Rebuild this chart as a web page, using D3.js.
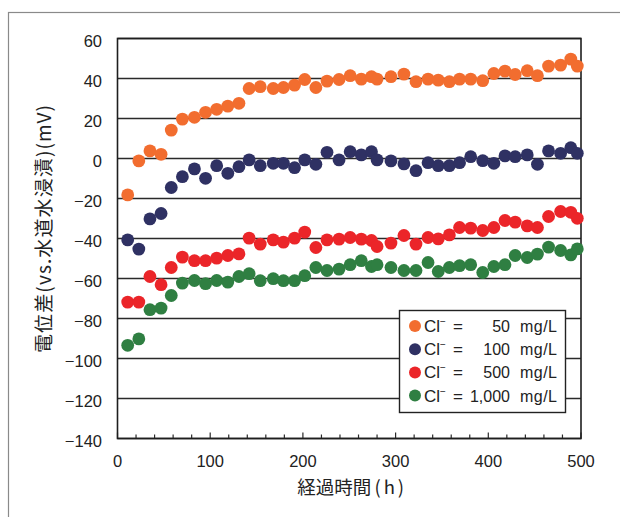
<!DOCTYPE html>
<html><head><meta charset="utf-8">
<script src="https://cdn.jsdelivr.net/npm/d3@7"></script>
<style>body{margin:0;background:#fff}svg{display:block}</style>
</head><body><svg id="c" width="620" height="517"></svg>
<script>
const hours = [11,23,35,47,58,70,83,95,107,119,131,142,154,168,179,191,202,214,226,239,251,263,274,280,295,309,322,335,346,358,369,381,394,406,418,429,442,453,465,478,489,496];
const cl50 = [-18.2,-1.2,3.8,2.1,14.2,19.7,20.6,23.1,24.6,26.2,27.6,35.0,35.9,35.0,35.5,36.7,39.5,35.5,38.7,39.5,41.4,39.7,40.9,39.7,40.9,42.2,38.4,39.7,39.2,38.4,39.7,39.7,38.9,42.5,43.7,42.0,43.9,41.4,46.2,46.7,49.7,46.2];
const cl100 = [-40.7,-45.3,-30.2,-27.5,-14.5,-9.1,-5.2,-9.9,-3.6,-7.4,-4.1,-0.7,-3.6,-2.4,-2.4,-4.6,-0.7,-2.9,3.1,-0.7,3.4,1.8,3.4,-0.7,-1.2,-2.7,-6.1,-2.1,-3.6,-3.6,-2.1,0.9,-1.1,-2.4,1.3,0.9,1.8,-2.9,3.8,2.6,5.4,2.6];
const cl500 = [-71.8,-71.8,-59,-63.1,-54.5,-49.3,-51.1,-51.1,-49.8,-48.5,-47.7,-39.8,-42.8,-40.7,-41.8,-39.8,-36.8,-44.5,-40.7,-40.3,-39.5,-40.3,-41.0,-44.0,-42.3,-38.5,-42.8,-39.5,-40.2,-38.2,-34.5,-34.8,-36.0,-34.5,-31.0,-31.8,-33.7,-34.5,-29.0,-26.5,-26.9,-29.9];
const cl1000 = [-93.4,-90.2,-75.6,-74.8,-68.5,-62.3,-61.0,-62.6,-61.0,-61.8,-59.0,-57.6,-61.1,-60.1,-61.1,-61.1,-58.6,-54.5,-56.0,-55.3,-53.1,-51.1,-54.0,-53.1,-54.5,-56.0,-56.0,-52.0,-56.5,-54.5,-53.6,-53.1,-57.0,-54.0,-53.1,-48.5,-49.5,-47.8,-44.3,-46.0,-48.2,-45.2];
const seriesNames = ["50","100","500","1,000"];
const seriesColors = ["#f26d2f","#2f3163","#eb2529","#2f7f42"];
const yTicks = [60,40,20,0,-20,-40,-60,-80,-100,-120,-140];
const xTicks = [0,100,200,300,400,500];
const xTitleMain = "経過時間";
const xTitleUnit = "(h)";
const yTitle = "電位差(vs.水道水浸漬)(mV)";

const svg = d3.select("#c");
const L = 117.5, R = 581, T = 38.5, B = 438.5;
const x = d3.scaleLinear().domain([0,500]).range([L,R]);
const y = d3.scaleLinear().domain([-140,60]).range([B,T]);
const font = "'Liberation Sans', Arial, sans-serif";
const cjk = "'Noto Sans CJK JP', 'Noto Sans', sans-serif";

svg.append("rect").attr("width",620).attr("height",517).attr("fill","#fff");
svg.append("rect").attr("x",8.5).attr("y",12.5).attr("width",640).attr("height",540)
  .attr("fill","none").attr("stroke","#8a8a8a").attr("stroke-width",1.2);

svg.append("g").selectAll("line").data(yTicks).join("line")
  .attr("x1",L).attr("x2",R).attr("y1",d=>y(d)).attr("y2",d=>y(d))
  .attr("stroke","#2a2a2a").attr("stroke-width",1.3);

const minor = d3.range(0,501,20);
svg.append("g").selectAll("line").data(minor).join("line")
  .attr("x1",d=>x(d)).attr("x2",d=>x(d)).attr("y1",B).attr("y2",d=>B-(d%100===0?6:4))
  .attr("stroke","#2a2a2a").attr("stroke-width",1.2);

svg.append("rect").attr("x",L).attr("y",T).attr("width",R-L).attr("height",B-T)
  .attr("fill","none").attr("stroke","#1e1e1e").attr("stroke-width",1.6);

svg.append("g").selectAll("text").data(yTicks).join("text")
  .attr("x",102).attr("y",d=>y(d)+8).attr("text-anchor","end")
  .attr("font-family",font).attr("font-size",16.5).attr("fill","#222")
  .text(d=>d<0?"\u2212"+Math.abs(d):d);
svg.append("g").selectAll("text").data(xTicks).join("text")
  .attr("x",d=>x(d)).attr("y",467).attr("text-anchor","middle")
  .attr("font-family",font).attr("font-size",16.5).attr("fill","#222")
  .text(d=>d);

const xt = svg.append("text").attr("x",(L+R)/2+3).attr("y",494).attr("text-anchor","middle")
  .attr("font-family",cjk).attr("font-size",18.5).attr("fill","#222");
xt.append("tspan").text(xTitleMain);
xt.append("tspan").attr("dx",3).attr("letter-spacing",3).text(xTitleUnit);

svg.append("text").attr("transform","translate(51,229) rotate(-90)").attr("text-anchor","middle")
  .attr("font-family",cjk).attr("font-size",19).attr("fill","#222")
  .attr("textLength",248).attr("lengthAdjust","spacing").text(yTitle);

const allSeries = [cl50, cl100, cl500, cl1000];
allSeries.forEach((vals,i)=>{
  svg.append("g").selectAll("circle").data(hours.map((h,j)=>[h,vals[j]])).join("circle")
    .attr("cx",d=>x(d[0])).attr("cy",d=>y(d[1])).attr("r",6.4)
    .attr("fill",seriesColors[i]);
});

const lg = svg.append("g");
lg.append("rect").attr("x",399.5).attr("y",310.5).attr("width",166).attr("height",102)
  .attr("fill","#fff").attr("stroke","#222").attr("stroke-width",1.4);
seriesNames.forEach((n,i)=>{
  const cy = 326 + i*23.2;
  lg.append("circle").attr("cx",415).attr("cy",cy).attr("r",6).attr("fill",seriesColors[i]);
  const t = lg.append("text").attr("x",424).attr("y",cy+6).attr("font-family",font)
    .attr("font-size",17).attr("fill","#222");
  t.append("tspan").text("Cl");
  t.append("tspan").attr("dy",-7).attr("font-size",10).text("\u2212");
  lg.append("text").attr("x",453).attr("y",cy+6).attr("font-family",font)
    .attr("font-size",17).attr("fill","#222").text("=");
  lg.append("text").attr("x",510).attr("y",cy+6).attr("text-anchor","end").attr("font-family",font)
    .attr("font-size",16).attr("fill","#222").text(n);
  lg.append("text").attr("x",520).attr("y",cy+6).attr("font-family",font)
    .attr("font-size",16).attr("fill","#222").attr("textLength",37).attr("lengthAdjust","spacing").text("mg/L");
});
</script></body></html>
